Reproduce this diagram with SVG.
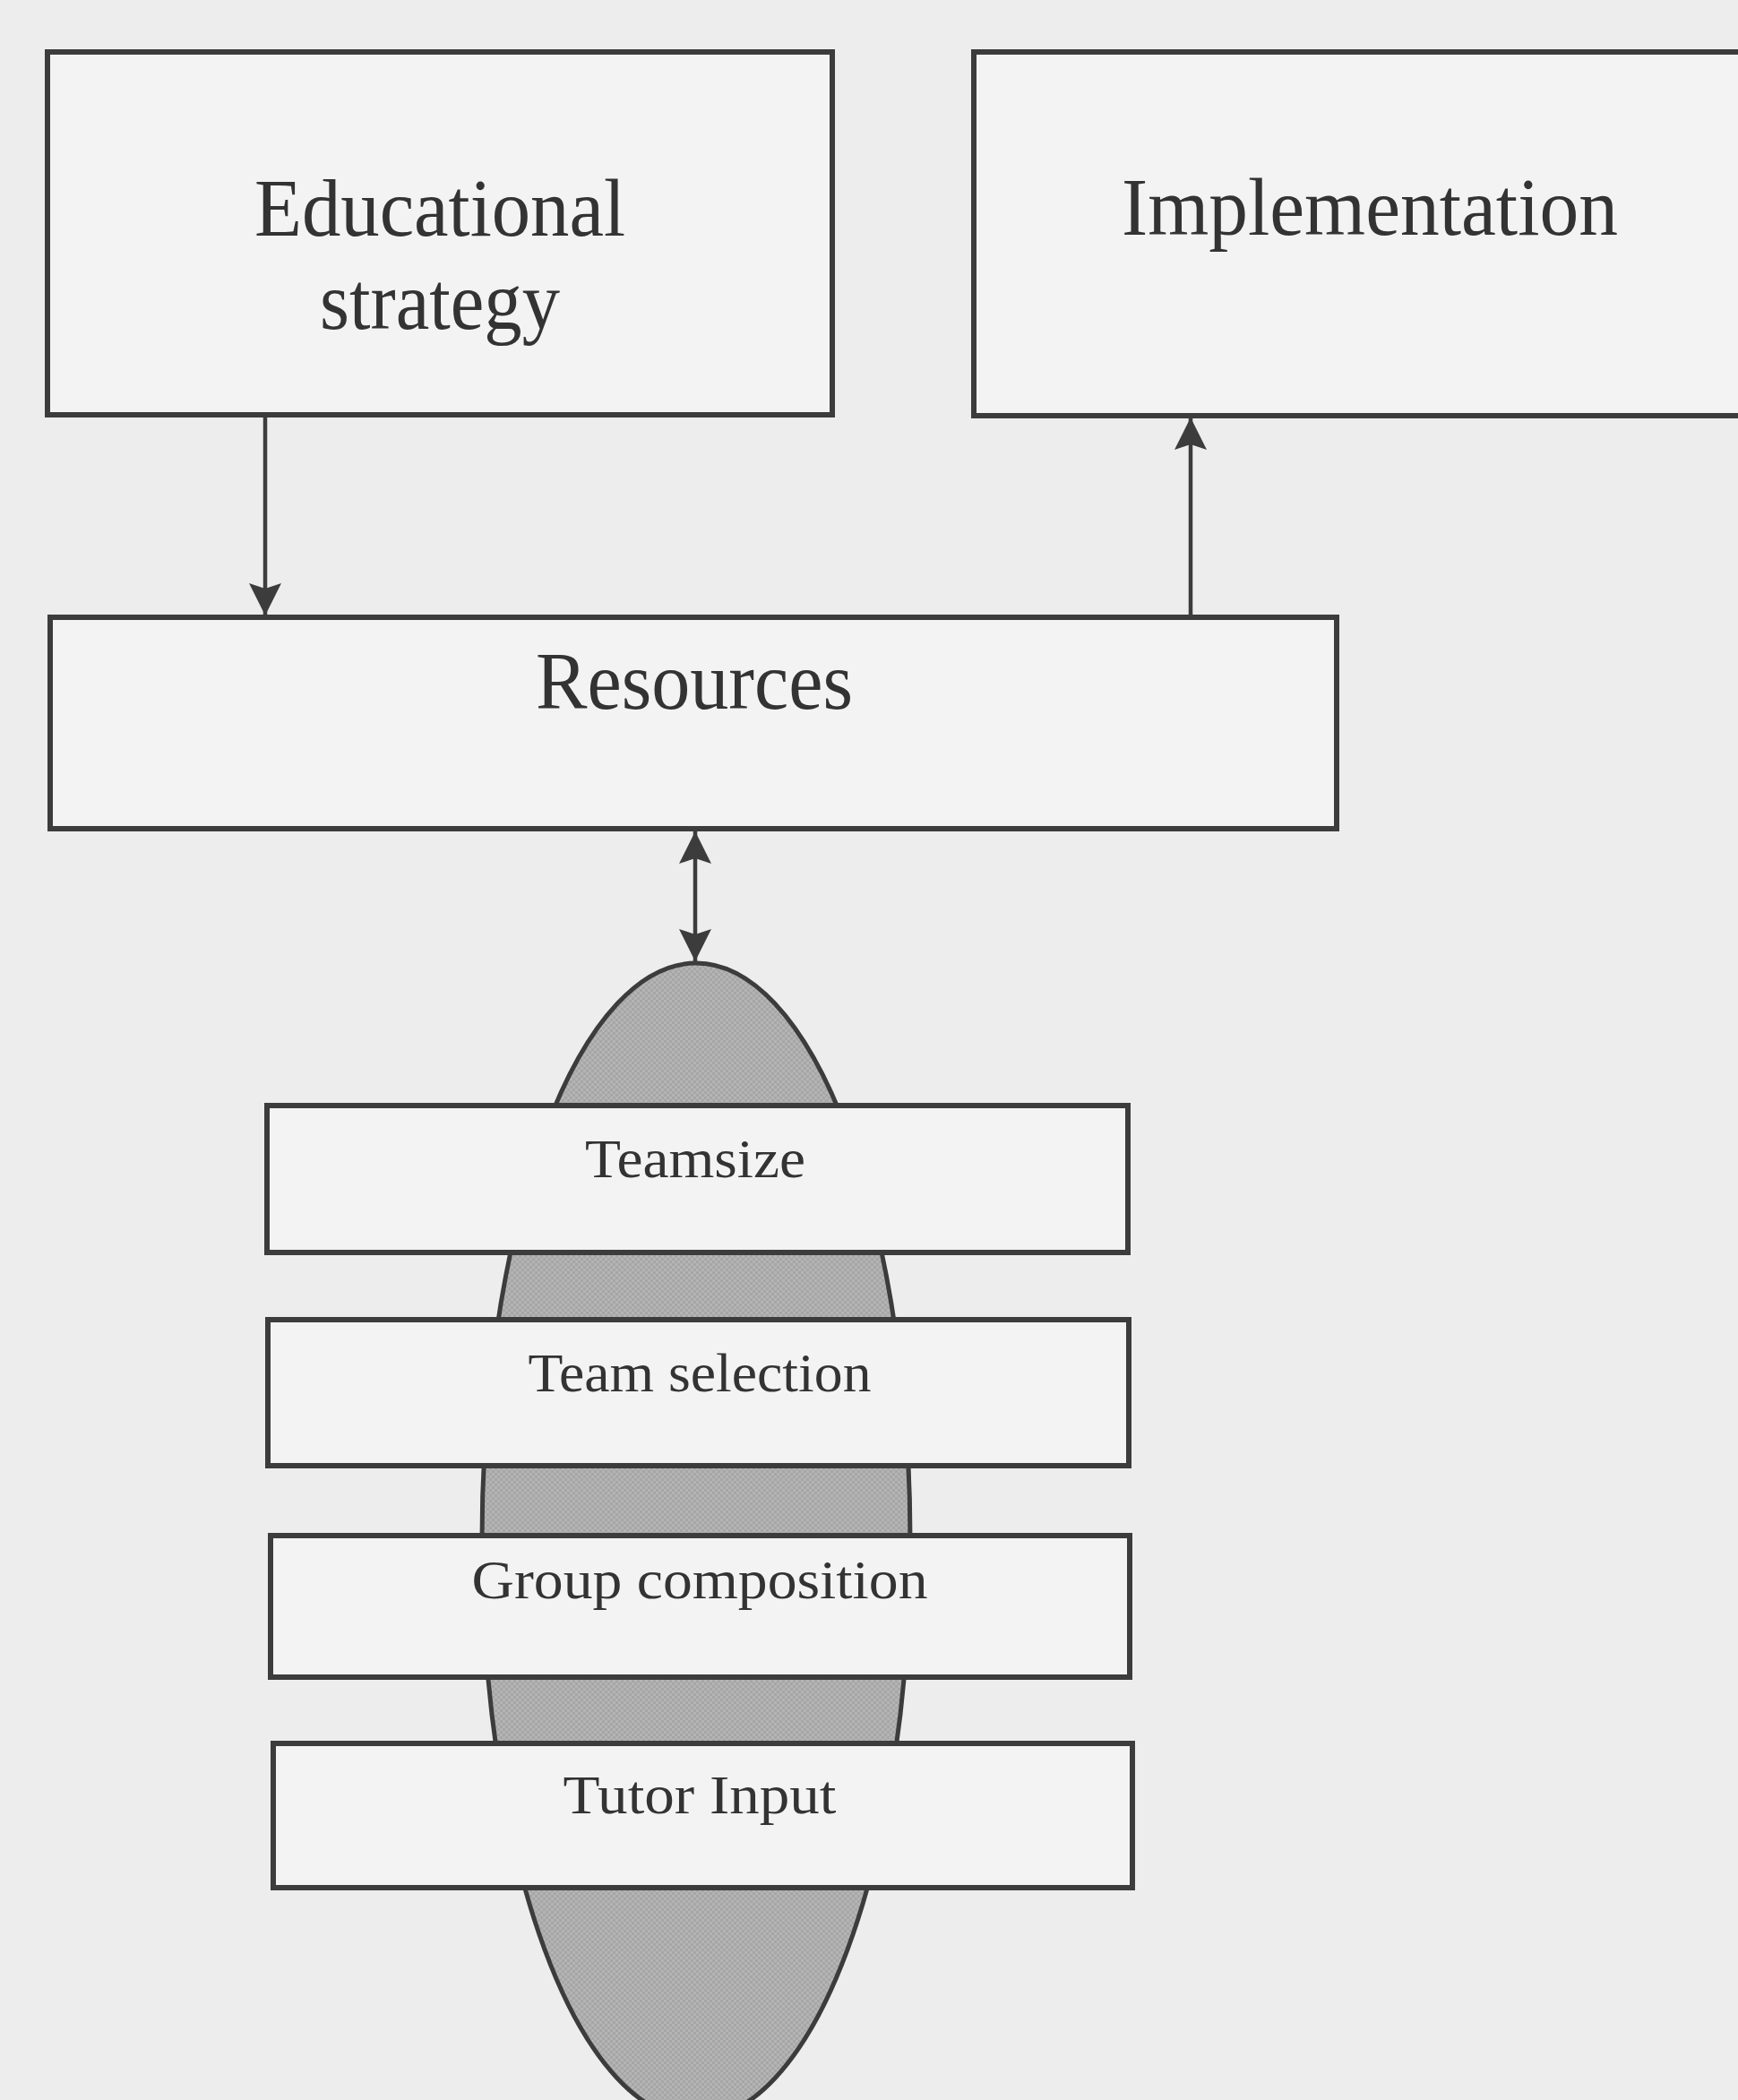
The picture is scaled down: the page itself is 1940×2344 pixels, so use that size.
<svg xmlns="http://www.w3.org/2000/svg" width="1940" height="2344" viewBox="0 0 1940 2344">
  <style>
    .box { fill: #f3f3f3; stroke: #3c3c3c; stroke-width: 6; }
    .big { font-family: "Liberation Serif", "Times New Roman", serif; font-size: 92px; fill: #333; text-anchor: middle; }
    .small { font-family: "Liberation Serif", "Times New Roman", serif; font-size: 62px; fill: #333; text-anchor: middle; }
    .link { stroke: #3c3c3c; stroke-width: 4.5; fill: none; }
  </style>
  <defs>
    <marker id="head" viewBox="0 0 40 40" refX="38" refY="20" markerWidth="40" markerHeight="40" markerUnits="userSpaceOnUse" orient="auto-start-reverse">
      <path d="M2,2 L38,20 L2,38 L8,20 Z" fill="#3c3c3c"/>
    </marker>
    <pattern id="dither" width="6" height="6" patternUnits="userSpaceOnUse">
      <rect width="6" height="6" fill="#b4b4b4"/>
      <rect width="3" height="3" fill="#a6a6a6"/>
      <rect x="3" y="3" width="3" height="3" fill="#a6a6a6"/>
    </pattern>
  </defs>

  <rect width="1940" height="2344" fill="#ededed"/>

  <!-- shaded team core behind the stacked factor bars -->
  <g id="core">
    <ellipse cx="777" cy="1720" rx="239" ry="645" fill="url(#dither)" stroke="#3c3c3c" stroke-width="5"/>
  </g>

  <g id="connectors">
    <line class="link" x1="296" y1="465" x2="296" y2="687" marker-end="url(#head)"/>
    <line class="link" x1="1329" y1="689" x2="1329" y2="466" marker-end="url(#head)"/>
    <line class="link" x1="776" y1="928" x2="776" y2="1073" marker-start="url(#head)" marker-end="url(#head)"/>
  </g>

  <g id="educational-strategy">
    <rect class="box" x="53" y="58" width="876" height="405"/>
    <text class="big" x="491" y="263" textLength="414" lengthAdjust="spacingAndGlyphs">Educational</text>
    <text class="big" x="491" y="367" textLength="268" lengthAdjust="spacingAndGlyphs">strategy</text>
  </g>

  <g id="implementation">
    <rect class="box" x="1087" y="58" width="900" height="406"/>
    <text class="big" x="1529" y="262" textLength="554" lengthAdjust="spacingAndGlyphs">Implementation</text>
  </g>

  <g id="resources">
    <rect class="box" x="56" y="689" width="1436" height="236"/>
    <text class="big" x="775" y="791" textLength="354" lengthAdjust="spacingAndGlyphs">Resources</text>
  </g>

  <g id="teamsize">
    <rect class="box" x="298" y="1234" width="961" height="164"/>
    <text class="small" x="776" y="1314" textLength="246" lengthAdjust="spacingAndGlyphs">Teamsize</text>
  </g>

  <g id="team-selection">
    <rect class="box" x="299" y="1473" width="961" height="163"/>
    <text class="small" x="781" y="1553" textLength="383" lengthAdjust="spacingAndGlyphs">Team selection</text>
  </g>

  <g id="group-composition">
    <rect class="box" x="302" y="1714" width="959" height="158"/>
    <text class="small" x="781" y="1784" textLength="509" lengthAdjust="spacingAndGlyphs">Group composition</text>
  </g>

  <g id="tutor-input">
    <rect class="box" x="305" y="1946" width="959" height="161"/>
    <text class="small" x="781" y="2024" textLength="305" lengthAdjust="spacingAndGlyphs">Tutor Input</text>
  </g>
</svg>
